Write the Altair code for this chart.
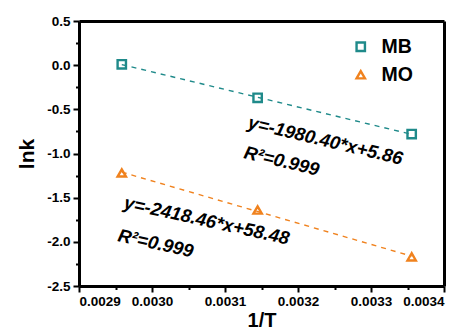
import altair as alt
import pandas as pd

# Reciprocal temperatures (1/K) and ln k for the two dyes
inv_t = [0.0029586, 0.0031447, 0.0033557]
mb_lnk = [0.01, -0.37, -0.78]
mo_lnk = [-1.22, -1.64, -2.17]
series = ["MB", "MO"]
colors = ["#1f8a8a", "#f0821e"]
shapes = ["square", "triangle-up"]

# Fit-equation annotations
eq_text = ["y=-1980.40*x+5.86", "R²=0.999", "y=-2418.46*x+58.48", "R²=0.999"]
eq_x = [0.0031301, 0.0031247, 0.0029603, 0.0029521]
eq_y = [-0.71, -1.05, -1.62, -1.99]
eq_angle = [13.5, 13.5, 12.5, 12.5]

x_ticks = [round(0.0029 + i * 0.00005, 6) for i in range(11)]
y_ticks = [round(-2.5 + i * 0.25, 3) for i in range(13)]

rows = []
for s, vals in zip(series, [mb_lnk, mo_lnk]):
    for x, y in zip(inv_t, vals):
        rows.append({"invT": x, "lnk": y, "dye": s})
df = pd.DataFrame(rows)
ann = pd.DataFrame({"t": eq_text, "x": eq_x, "y": eq_y, "a": eq_angle})

FONT = "Liberation Sans"
LINE_W = 3

x_scale = alt.Scale(domain=[0.0029, 0.0034], nice=False, zero=False)
y_scale = alt.Scale(domain=[-2.5, 0.5], nice=False, zero=False)

x_major = "abs(datum.value*10000 - round(datum.value*10000)) < 1e-6"
y_major = "abs(datum.value*2 - round(datum.value*2)) < 1e-6"

x_axis = alt.Axis(
    values=x_ticks, title="1/T", grid=False, orient="bottom",
    labelExpr=f"{x_major} ? format(datum.value, '.4f') : ''",
    tickSize={"condition": {"test": x_major, "value": 6}, "value": 3.5},
    tickWidth=2, tickColor="black", domainColor="black", domainWidth=LINE_W,
    labelFont=FONT, labelFontWeight="bold", labelFontSize=13.5, labelColor="black",
    labelPadding=2, titleFont=FONT, titleFontWeight="bold", titleFontSize=20,
    titleColor="black", titlePadding=3,
)
y_axis = alt.Axis(
    values=y_ticks, title="lnk", grid=False, orient="left",
    labelExpr=f"{y_major} ? replace(format(datum.value, '.1f'), '\u2212', '-') : ''",
    tickSize={"condition": {"test": y_major, "value": 6}, "value": 3.5},
    tickWidth=2, tickColor="black", domainColor="black", domainWidth=LINE_W,
    labelFont=FONT, labelFontWeight="bold", labelFontSize=13.5, labelColor="black",
    labelPadding=3, titleFont=FONT, titleFontWeight="bold", titleFontSize=21,
    titleColor="black", titlePadding=9,
)
# plain top and right edges of the frame
x_top = alt.Axis(orient="top", title=None, labels=False, ticks=False, grid=False,
                 domainColor="black", domainWidth=LINE_W)
y_right = alt.Axis(orient="right", title=None, labels=False, ticks=False, grid=False,
                   domainColor="black", domainWidth=LINE_W)

color_scale = alt.Scale(domain=series, range=colors)
shape_scale = alt.Scale(domain=series, range=shapes)

legend = alt.Legend(
    orient="none", legendX=272, legendY=16, labelFont=FONT,
    labelFontWeight="bold", labelFontSize=19.5, labelColor="black",
    symbolStrokeWidth=2.4, symbolSize=70, rowPadding=7, labelOffset=11,
    symbolFillColor="transparent", title=None,
)

base = alt.Chart(df)

fit = base.transform_regression(
    "invT", "lnk", groupby=["dye"], extent=[0.0029586, 0.0033557]
).mark_line(strokeDash=[5, 5], strokeWidth=1.4).encode(
    x=alt.X("invT:Q", scale=x_scale, axis=x_axis),
    y=alt.Y("lnk:Q", scale=y_scale, axis=y_axis),
    color=alt.Color("dye:N", scale=color_scale, legend=legend),
)

frame = base.mark_point(opacity=0).encode(
    x=alt.X("invT:Q", scale=x_scale, axis=x_top),
    y=alt.Y("lnk:Q", scale=y_scale, axis=y_right),
)

points = base.mark_point(filled=False, strokeWidth=2.4, size=70, opacity=1).encode(
    x=alt.X("invT:Q", scale=x_scale, axis=None),
    y=alt.Y("lnk:Q", scale=y_scale, axis=None),
    color=alt.Color("dye:N", scale=color_scale, legend=legend),
    shape=alt.Shape("dye:N", scale=shape_scale, legend=legend),
)

labels = alt.Chart(ann).mark_text(
    font=FONT, fontStyle="italic", fontWeight="bold", fontSize=18.5,
    align="left", baseline="alphabetic", color="black",
).encode(
    x=alt.X("x:Q", scale=x_scale, axis=None),
    y=alt.Y("y:Q", scale=y_scale, axis=None),
    text="t:N",
    angle=alt.Angle("a:Q", scale=None),
)

chart = alt.layer(fit, frame, points, labels).properties(
    width=365, height=265,
    autosize=alt.AutoSizeParams(type="none"),
    padding={"left": 79, "top": 21, "right": 24, "bottom": 47},
).configure(background="white").configure_view(strokeWidth=0, stroke="transparent")

chart.save("out.html", embed_options={"renderer": "svg", "actions": False})
